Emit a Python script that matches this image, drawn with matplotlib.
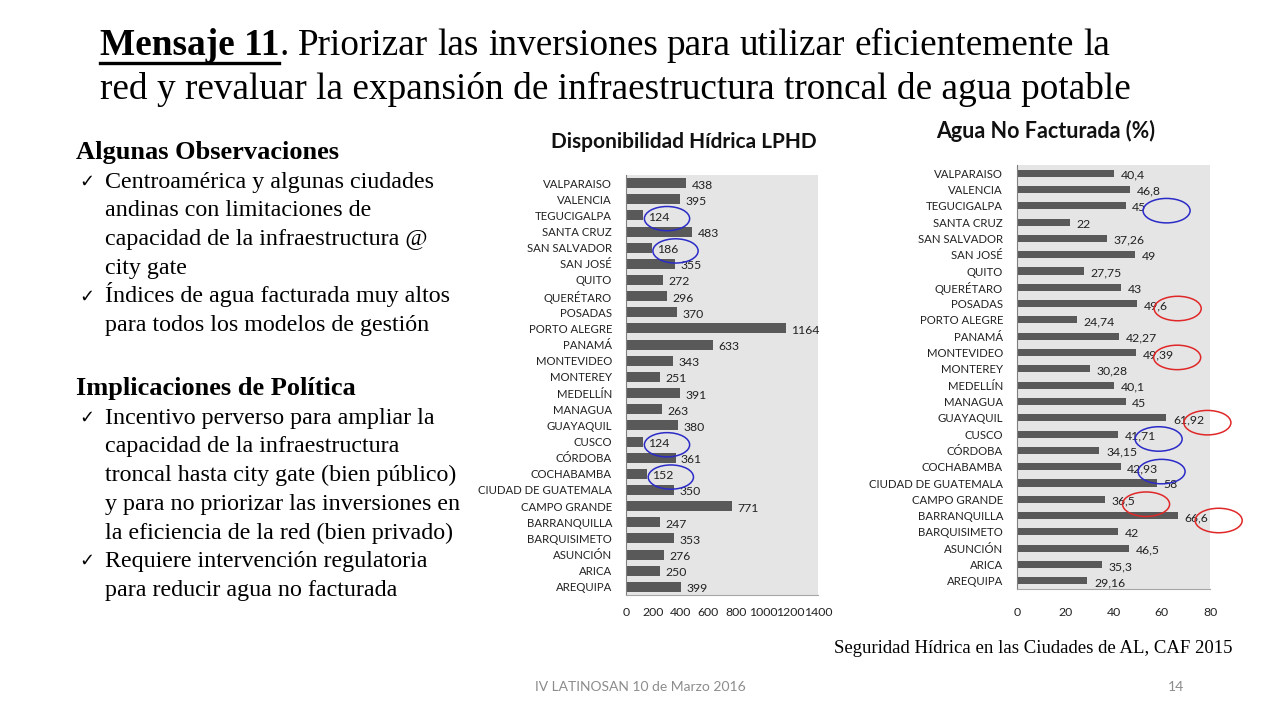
import matplotlib
matplotlib.use("Agg")
import matplotlib.pyplot as plt
from matplotlib.lines import Line2D
from matplotlib.patches import Ellipse

W, H = 1280, 720

# --- datos (orden de arriba hacia abajo) ---
ciudades = ["VALPARAISO", "VALENCIA", "TEGUCIGALPA", "SANTA CRUZ", "SAN SALVADOR",
            "SAN JOSÉ", "QUITO", "QUERÉTARO", "POSADAS", "PORTO ALEGRE", "PANAMÁ",
            "MONTEVIDEO", "MONTEREY", "MEDELLÍN", "MANAGUA", "GUAYAQUIL", "CUSCO",
            "CÓRDOBA", "COCHABAMBA", "CIUDAD DE GUATEMALA", "CAMPO GRANDE",
            "BARRANQUILLA", "BARQUISIMETO", "ASUNCIÓN", "ARICA", "AREQUIPA"]
lphd = [438, 395, 124, 483, 186, 355, 272, 296, 370, 1164, 633, 343, 251, 391,
        263, 380, 124, 361, 152, 350, 771, 247, 353, 276, 250, 399]
anf = [40.4, 46.8, 45, 22, 37.26, 49, 27.75, 43, 49.6, 24.74, 42.27, 49.39, 30.28,
       40.1, 45, 61.92, 41.71, 34.15, 42.93, 58, 36.5, 66.6, 42, 46.5, 35.3, 29.16]
ticks_lphd = [0, 200, 400, 600, 800, 1000, 1200, 1400]
ticks_anf = [0, 20, 40, 60, 80]

# ciudades marcadas con círculos en la lámina
azul_lphd = ["TEGUCIGALPA", "SAN SALVADOR", "CUSCO", "COCHABAMBA"]
azul_anf = ["TEGUCIGALPA", "CUSCO", "COCHABAMBA"]
rojo_anf = ["POSADAS", "MONTEVIDEO", "GUAYAQUIL", "CAMPO GRANDE", "BARRANQUILLA"]

titulo_resto = "Priorizar las inversiones para utilizar eficientemente la"
titulo_l2 = "red y revaluar la expansión de infraestructura troncal de agua potable"

obs = [("h", "Algunas Observaciones"),
       ("c", "Centroamérica y algunas ciudades"),
       ("t", "andinas con limitaciones de"),
       ("t", "capacidad de la infraestructura @"),
       ("t", "city gate"),
       ("c", "Índices de agua facturada muy altos"),
       ("t", "para todos los modelos de gestión")]
impl = [("h", "Implicaciones de Política"),
        ("c", "Incentivo perverso para ampliar la"),
        ("t", "capacidad de la infraestructura"),
        ("t", "troncal hasta city gate (bien público)"),
        ("t", "y para no priorizar las inversiones en"),
        ("t", "la eficiencia de la red (bien privado)"),
        ("c", "Requiere intervención regulatoria"),
        ("t", "para reducir agua no facturada")]

SERIF = ["Liberation Serif", "DejaVu Serif"]
SANS = ["Lato", "DejaVu Sans"]
BAR = "#595959"
BG = "#E5E5E5"


def px(x, y):
    return x / W, 1 - y / H


def box(x0, y0, x1, y1):
    return [x0 / W, 1 - y1 / H, (x1 - x0) / W, (y1 - y0) / H]


def fmt(v):
    return f"{v:g}".replace(".", ",")


def bar_chart(fig, rect, valores, xticks, titulo, tpos, tfs, alto, despl, pad_x):
    ax = fig.add_axes(rect)
    y = list(range(len(ciudades)))
    ax.barh(y, valores, height=alto, color=BAR, zorder=2)
    ax.set_facecolor(BG)
    ax.set_ylim(len(ciudades) - 0.5, -0.5)
    ax.set_xlim(xticks[0], xticks[-1])
    ax.set_yticks(y)
    ax.set_yticklabels(ciudades, fontsize=8.2, family=SANS, color="#222222")
    ax.set_xticks(xticks)
    ax.set_xticklabels([str(t) for t in xticks], fontsize=8.8, family=SANS, color="#222222")
    ax.tick_params(axis="y", length=0, pad=10)
    ax.tick_params(axis="x", length=0, pad=pad_x)
    for s in ["top", "right"]:
        ax.spines[s].set_visible(False)
    ax.spines["left"].set_color("#7F7F7F")
    ax.spines["bottom"].set_color("#A6A6A6")
    for i, v in enumerate(valores):
        ax.text(v + despl, i + 0.12, fmt(v), va="center", ha="left",
                fontsize=8.8, family=SANS, color="#222222", zorder=3)
    fig.text(*px(*tpos), titulo, ha="center", va="center", fontsize=tfs,
             fontweight="bold", family=SANS, color="#111111")
    return ax


def circulos(ax, nombres, valores, color, dx, ancho, dy):
    for n in nombres:
        i = ciudades.index(n)
        e = Ellipse((valores[i] + dx, i + dy), ancho, 1.5, fill=False,
                    edgecolor=color, lw=1.1, clip_on=False, zorder=4)
        ax.add_patch(e)


fig = plt.figure(figsize=(W / 100, H / 100), dpi=100)
fig.patch.set_facecolor("white")
renderer = fig.canvas.get_renderer()

# --- título justificado ---
fs_t = 26.8
t0 = fig.text(*px(100, 55), "Mensaje 11", fontsize=fs_t, fontweight="bold",
              family=SERIF, va="baseline")
bb = t0.get_window_extent(renderer)
x_end = bb.x1
fig.add_artist(Line2D([100 / W, x_end / W], [1 - 63 / H] * 2, color="black", lw=2.4))
tp = fig.text(x_end / W, 1 - 55 / H, ".", fontsize=fs_t, family=SERIF, va="baseline")
x_cur = tp.get_window_extent(renderer).x1
palabras = titulo_resto.split()
arts = [fig.text(0, 1 - 55 / H, p, fontsize=fs_t, family=SERIF, va="baseline") for p in palabras]
anchos = [a.get_window_extent(renderer).width for a in arts]
hueco = (1110 - x_cur - sum(anchos)) / len(palabras)
x = x_cur + hueco
for a, w in zip(arts, anchos):
    a.set_x(x / W)
    x += w + hueco
fig.text(*px(100, 99), titulo_l2, fontsize=fs_t, family=SERIF, va="baseline")

# --- texto de la izquierda ---
def bloque(lineas, y0):
    y = y0
    for tipo, txt in lineas:
        if tipo == "h":
            fig.text(*px(76, y), txt, fontsize=19, fontweight="bold", family=SERIF, va="baseline")
        else:
            if tipo == "c":
                fig.text(*px(79, y - 1), "✓", fontsize=13, family=["DejaVu Sans"], va="baseline")
            fig.text(*px(105, y), txt, fontsize=17.3, family=SERIF, va="baseline")
        y += 28.7

bloque(obs, 159)
bloque(impl, 395)

# --- gráficos ---
ax1 = bar_chart(fig, box(626, 175, 818, 595), lphd, ticks_lphd,
                "Disponibilidad Hídrica LPHD", (684, 142), 15, 0.62, 40, 9)
ax2 = bar_chart(fig, box(1017, 165, 1210, 589), anf, ticks_anf,
                "Agua No Facturada (%)", (1046, 131), 15.5, 0.43, 2.8, 13)

circulos(ax1, azul_lphd, lphd, "#2B2BC8", 175, 330, 0.2)
circulos(ax2, azul_anf, anf, "#2B2BC8", 17, 19.5, 0.3)
circulos(ax2, rojo_anf, anf, "#E02828", 17, 19.5, 0.3)

# --- pie ---
fig.text(*px(1232, 653), "Seguridad Hídrica en las Ciudades de AL, CAF 2015",
         fontsize=13.5, family=SERIF, ha="right", va="baseline")
fig.text(*px(640, 687), "IV LATINOSAN 10 de Marzo 2016", fontsize=10,
         family=SANS, color="#8C8C8C", ha="center", va="center")
fig.text(*px(1176, 687), "14", fontsize=10, family=SANS, color="#8C8C8C",
         ha="center", va="center")

fig.savefig("out.png", dpi=100)
